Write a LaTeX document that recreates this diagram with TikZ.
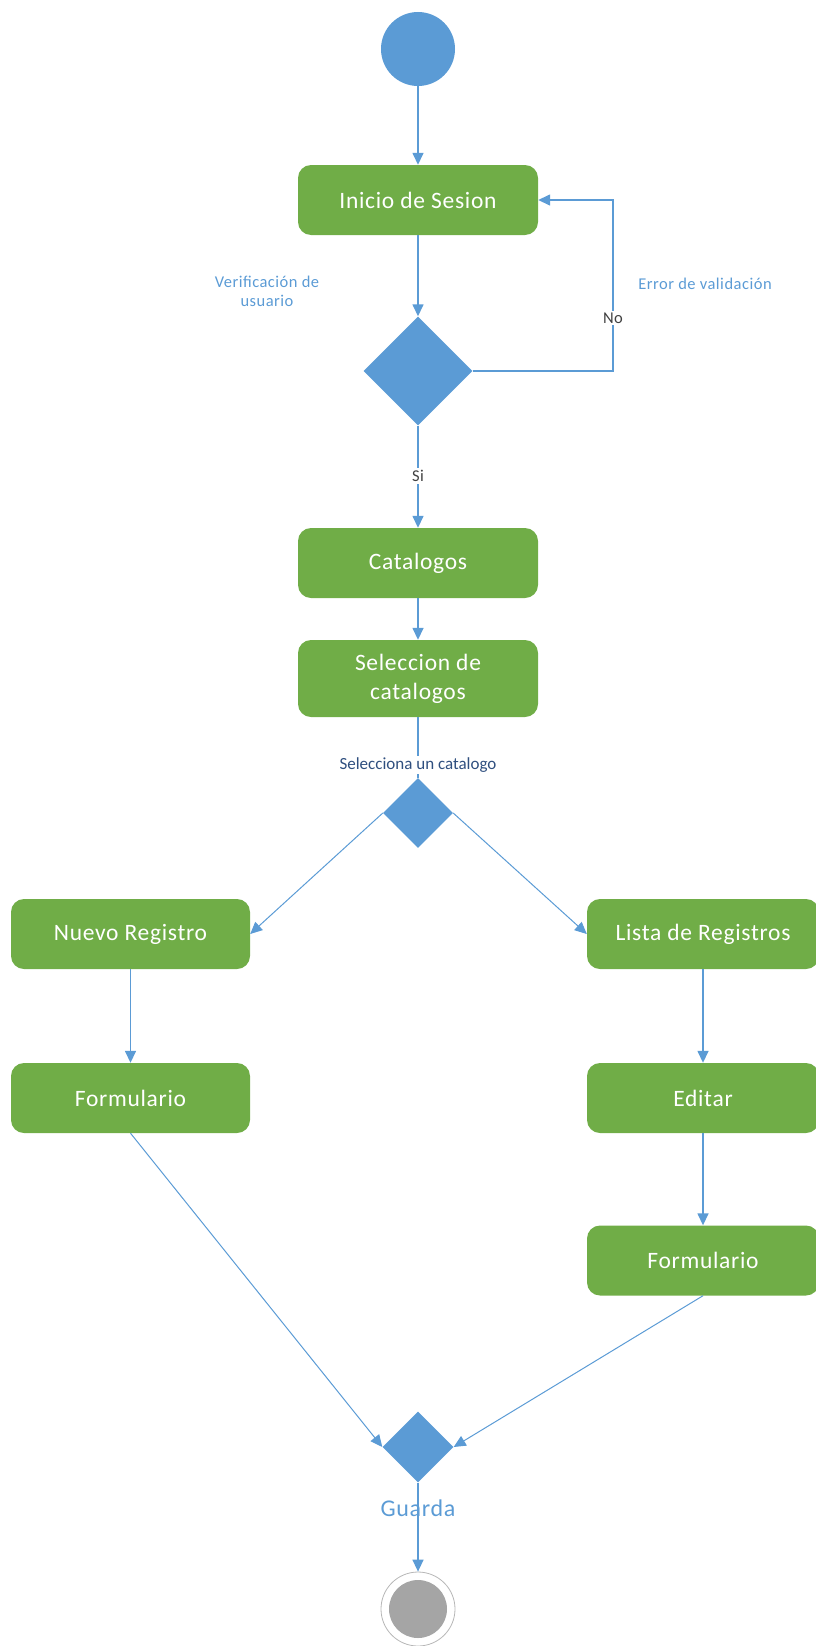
\documentclass[tikz,border=0pt]{standalone}
\usepackage{fontspec}
\setmainfont{Carlito}[LetterSpace=3]
\newfontfamily\tightfont{Carlito}
\usetikzlibrary{arrows.meta,shapes.geometric}
\definecolor{actgreen}{HTML}{70AD47}
\definecolor{flowblue}{HTML}{5B9BD5}
\definecolor{guardgray}{HTML}{404040}
\definecolor{labelnavy}{HTML}{2F4F7F}
\definecolor{endgray}{HTML}{A5A5A5}
\tikzset{
  activity/.style={rectangle, rounded corners=13pt, fill=actgreen, text=white,
    inner sep=0pt, minimum width=240pt, minimum height=70pt, align=center,
    font=\fontsize{23.5}{29}\selectfont},
  decision/.style={diamond, aspect=1, fill=flowblue, inner sep=0pt},
  flow/.style={draw=flowblue, line width=1.5pt,
    -{Triangle[length=12pt,width=11pt]}},
  flowthin/.style={draw=flowblue, line width=1pt,
    -{Triangle[length=12pt,width=11pt]}},
  plainflow/.style={draw=flowblue, line width=1.5pt},
  guardlbl/.style={fill=white, text=guardgray, inner sep=2pt,
    font=\fontsize{16.5}{18}\selectfont},
  notelbl/.style={text=flowblue, align=center, font=\fontsize{16.5}{19}\selectfont},
}
\begin{document}
\begin{tikzpicture}[x=1pt,y=-1pt]
\useasboundingbox (0,0) rectangle (816,1646);

% start and end states
\node[circle, fill=flowblue, minimum size=74pt, inner sep=0pt] (start) at (418,49) {};
\node[circle, draw=endgray!80, fill=white, line width=0.8pt, minimum size=74pt, inner sep=0pt] (stop) at (418,1609) {};
\node[circle, fill=endgray, minimum size=58pt, inner sep=0pt] (stopcore) at (418,1609) {};

% activities
\node[activity] (login) at (418,200) {Inicio de Sesion};
\node[activity] (cat) at (418,563) {Catalogos};
\node[activity, minimum height=77pt] (sel) at (418,678.5) {Seleccion de\\catalogos};
\node[activity, minimum width=239pt] (nuevo) at (130.5,934) {Nuevo Registro};
\node[activity, minimum width=239pt] (formL) at (130.5,1098) {Formulario};
\node[activity, minimum width=232pt] (lista) at (703,934) {Lista de Registros};
\node[activity, minimum width=232pt] (editar) at (703,1098) {Editar};
\node[activity, minimum width=232pt] (formR) at (703,1260.5) {Formulario};

% decisions
\node[decision, minimum width=109pt, minimum height=109pt] (d1) at (418,371) {};
\node[decision, minimum width=70pt, minimum height=70pt] (d2) at (418,813) {};
\node[decision, minimum width=71pt, minimum height=71pt] (d3) at (418,1447) {};

% free notes
\node[notelbl] (verif) at (267,291) {Verificación de\\usuario};
\node[notelbl] (err) at (705,284) {Error de validación};

% connectors
\draw[flow] (start) -- (login);
\draw[flow] (login) -- (d1);
\draw[flow] (d1.east) -- (613,371) -- (613,200) -- (login.east);
\node[guardlbl] (no) at (613,318) {No};
\draw[flow] (d1.south) -- (cat.north);
\node[guardlbl] (si) at (418,476) {Si};
\draw[flow] (cat) -- (sel);
\draw[plainflow] (sel.south) -- (d2.north);
\node[fill=white, text=labelnavy, inner sep=1.5pt, font=\tightfont\fontsize{17}{19}\selectfont] (pick) at (418,765) {Selecciona un catalogo};
\draw[flowthin] (d2.west) -- (nuevo.east);
\draw[flowthin] (d2.east) -- (lista.west);
\draw[flow] (nuevo) -- (formL);
\draw[flow] (lista) -- (editar);
\draw[flow] (editar) -- (formR);
\draw[flowthin] (formL.south) -- (d3.west);
\draw[flowthin] (formR.south) -- (d3.east);
\draw[flow] (d3.south) -- (stop.north);
\node[text=flowblue, font=\fontsize{24}{28}\selectfont] (guard) at (418,1508) {Guarda};
\end{tikzpicture}
\end{document}
